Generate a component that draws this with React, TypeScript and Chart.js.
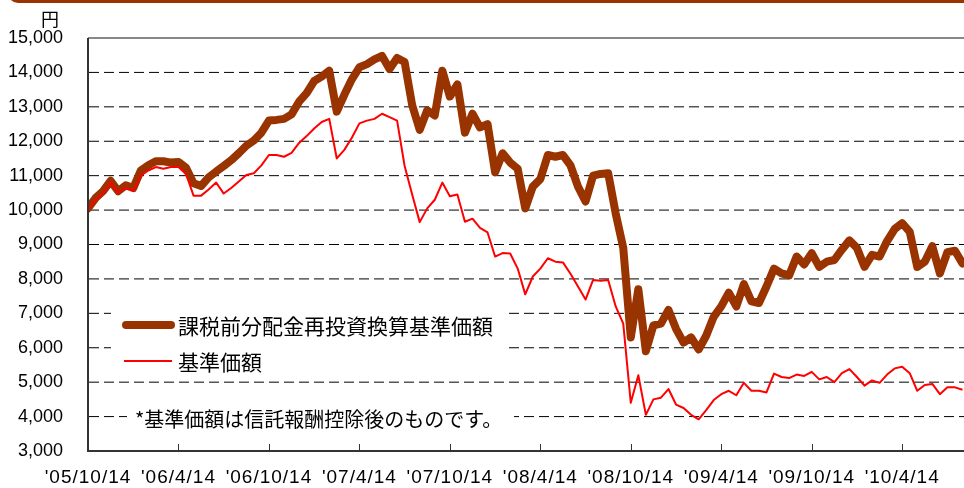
import { useEffect, useRef } from "react";
import { Chart, registerables } from "chart.js";

Chart.register(...registerables);

// ---- data ----
const seriesNames = ["課税前分配金再投資換算基準価額", "基準価額"];
const noteText = "*基準価額は信託報酬控除後のものです。";
const unitLabel = "円";
const xTickLabels = ["'05/10/14", "'06/4/14", "'06/10/14", "'07/4/14", "'07/10/14", "'08/4/14", "'08/10/14", "'09/4/14", "'09/10/14", "'10/4/14"];
const xTickMonths = [0, 6, 12, 18, 24, 30, 36, 42, 48, 54];
const yMin = 3000;
const yMax = 15000;
const yStep = 1000;
const xEndMonth = 58.1;
const sampleStepMonths = 0.5;

// 課税前分配金再投資換算基準価額 (half-monthly samples from 2005/10/14)
const reinvestedNav = [
  10050, 10350, 10550, 10850, 10550, 10720, 10640, 11150, 11300, 11420,
  11420, 11380, 11400, 11230, 10780, 10700, 10950, 11120, 11280, 11450,
  11650, 11870, 12020, 12250, 12600, 12620, 12650, 12780, 13150, 13400,
  13750, 13880, 14050, 12860, 13350, 13800, 14150, 14240, 14380, 14480,
  14100, 14420, 14300, 13050, 12330, 12900, 12750, 14050, 13300, 13650,
  12250, 12800, 12400, 12500, 11100, 11650, 11380, 11200, 10050, 10680,
  10900, 11600, 11550, 11600, 11300, 10680, 10250, 11000, 11050, 11070,
  9900, 8900, 6300, 7700, 5900, 6650, 6700, 7100, 6550, 6150,
  6300, 5950, 6350, 6900, 7200, 7600, 7200, 7850, 7350, 7300,
  7780, 8300, 8160, 8100, 8650, 8420, 8750, 8350, 8500, 8550,
  8850, 9120, 8900, 8350, 8700, 8650, 9100, 9450, 9620, 9370,
  8350, 8500, 8950, 8160, 8780, 8820, 8450,
];

// 基準価額
const nav = [
  10000, 10300, 10500, 10800, 10500, 10650, 10560, 11000, 11150, 11250,
  11200, 11250, 11250, 11050, 10420, 10420, 10600, 10800, 10480, 10640,
  10830, 11020, 11070, 11300, 11600, 11600, 11550, 11660, 11950, 12150,
  12370, 12560, 12650, 11500, 11750, 12100, 12520, 12600, 12650, 12800,
  12700, 12600, 11280, 10450, 9650, 10050, 10300, 10800, 10400, 10450,
  9660, 9750, 9480, 9350, 8650, 8750, 8740, 8300, 7550, 8070,
  8300, 8600, 8500, 8480, 8150, 7780, 7400, 7970, 7950, 7970,
  7200, 6700, 4400, 5200, 4050, 4500, 4550, 4800, 4350, 4250,
  4050, 3920, 4190, 4480, 4650, 4750, 4620, 4980, 4750, 4750,
  4700, 5250, 5150, 5120, 5220, 5180, 5300, 5080, 5150, 5000,
  5260, 5380, 5150, 4900, 5050, 4980, 5220, 5400, 5450, 5260,
  4750, 4920, 4950, 4650, 4850, 4850, 4780,
];

const BROWN = "#993300";
const RED = "#ff0000";
const LATIN = '"Liberation Sans", Arial, sans-serif';
const CJK = '"Noto Sans CJK JP", "Noto Sans", sans-serif';

const decoPlugin = {
  id: "deco",
  beforeDatasetsDraw(chart: any) {
    const { ctx, chartArea: a, scales } = chart;
    const y = scales.y;
    ctx.save();
    ctx.strokeStyle = "#000";
    ctx.lineWidth = 1;
    ctx.setLineDash([10, 5]);
    for (let v = yMin + yStep; v < yMax; v += yStep) {
      const py = y.getPixelForValue(v);
      ctx.beginPath();
      ctx.moveTo(a.left + 1, py);
      ctx.lineTo(a.right, py);
      ctx.stroke();
    }
    ctx.setLineDash([]);
    // white boxes behind legend and note
    ctx.fillStyle = "#fff";
    ctx.fillRect(111, 292, 397, 80);
    ctx.fillRect(127, 402, 387, 30);
    ctx.restore();
  },
  afterDatasetsDraw(chart: any) {
    const { ctx, chartArea: a, scales } = chart;
    const x = scales.x;
    ctx.save();
    // top frame line
    ctx.strokeStyle = "#888";
    ctx.lineWidth = 2;
    ctx.beginPath();
    ctx.moveTo(a.left, a.top);
    ctx.lineTo(a.right, a.top);
    ctx.stroke();
    // axes
    ctx.strokeStyle = "#333";
    ctx.lineWidth = 2;
    ctx.beginPath();
    ctx.moveTo(a.left, a.top);
    ctx.lineTo(a.left, a.bottom);
    ctx.lineTo(a.right, a.bottom);
    ctx.stroke();
    // inside tick marks
    ctx.lineWidth = 1;
    xTickMonths.forEach((m) => {
      const px = Math.round(x.getPixelForValue(m)) + 0.5;
      ctx.beginPath();
      ctx.moveTo(px, a.bottom);
      ctx.lineTo(px, a.bottom - 7);
      ctx.stroke();
    });
    // x labels
    ctx.fillStyle = "#000";
    ctx.font = `19px ${LATIN}`;
    (ctx as any).letterSpacing = "1px";
    ctx.textAlign = "center";
    ctx.textBaseline = "middle";
    xTickMonths.forEach((m, i) => {
      ctx.fillText(xTickLabels[i], x.getPixelForValue(m), a.bottom + 27);
    });
    (ctx as any).letterSpacing = "0px";
    // unit
    ctx.font = `18px ${CJK}`;
    ctx.fillText(unitLabel, 50, 19);
    // legend
    const ds = chart.data.datasets;
    const legendY = [325, 361];
    ds.forEach((d: any, i: number) => {
      ctx.strokeStyle = d.borderColor;
      ctx.lineWidth = d.borderWidth;
      ctx.lineCap = i === 0 ? "round" : "butt";
      ctx.beginPath();
      ctx.moveTo(i === 0 ? 126 : 124, legendY[i]);
      ctx.lineTo(i === 0 ? 171 : 172, legendY[i]);
      ctx.stroke();
      ctx.fillStyle = "#000";
      ctx.font = `21px ${CJK}`;
      ctx.textAlign = "left";
      ctx.textBaseline = "middle";
      ctx.fillText(d.label, 178, legendY[i] + 1);
    });
    // note
    ctx.font = `20px ${CJK}`;
    ctx.fillText(noteText, 135, 419);
    ctx.restore();
  },
};

export default function App() {
  const ref = useRef<HTMLCanvasElement | null>(null);
  useEffect(() => {
    document.body.style.margin = "0";
    const canvas = ref.current;
    if (!canvas) return;
    const chart = new Chart(canvas, {
      type: "line",
      data: {
        datasets: [
          {
            label: seriesNames[0],
            data: reinvestedNav.map((v, i) => ({ x: i * sampleStepMonths, y: v })),
            borderColor: BROWN,
            backgroundColor: BROWN,
            borderWidth: 8,
            borderJoinStyle: "round",
            borderCapStyle: "round",
            pointRadius: 0,
            tension: 0,
            order: 2,
          },
          {
            label: seriesNames[1],
            data: nav.map((v, i) => ({ x: i * sampleStepMonths, y: v })),
            borderColor: RED,
            backgroundColor: RED,
            borderWidth: 2,
            borderJoinStyle: "round",
            pointRadius: 0,
            tension: 0,
            order: 1,
          },
        ],
      },
      options: {
        responsive: false,
        animation: false,
        devicePixelRatio: 1,
        layout: { padding: { top: 38, right: 0, bottom: 0, left: 0 } },
        plugins: { legend: { display: false }, tooltip: { enabled: false } },
        scales: {
          x: {
            type: "linear",
            min: 0,
            max: xEndMonth,
            grid: { display: false, drawTicks: false },
            border: { display: false },
            ticks: { display: false },
            afterFit: (s: any) => {
              s.height = 37;
            },
          },
          y: {
            min: yMin,
            max: yMax,
            grid: { display: false, drawTicks: false },
            border: { display: false },
            ticks: {
              stepSize: yStep,
              padding: 25,
              color: "#000",
              font: { family: LATIN, size: 18 },
              callback: (v: any) => Number(v).toLocaleString("en-US"),
            },
            afterFit: (s: any) => {
              s.width = 88;
            },
          },
        },
      } as any,
      plugins: [decoPlugin],
    });
    return () => chart.destroy();
  }, []);

  return (
    <div style={{ position: "relative", width: 964, height: 488, overflow: "hidden", background: "#fff" }}>
      <div
        style={{
          position: "absolute",
          left: 8,
          top: -37,
          width: 1100,
          height: 40,
          boxSizing: "border-box",
          border: `3px solid ${BROWN}`,
          borderRadius: 10,
        }}
      />
      <canvas ref={ref} width={964} height={488} style={{ position: "absolute", left: 0, top: 0 }} />
    </div>
  );
}
